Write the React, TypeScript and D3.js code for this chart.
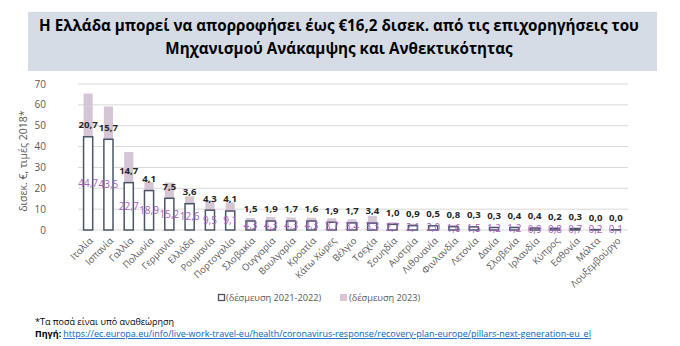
import React from "react";
import * as d3 from "d3";

const categories = [
  "Ιταλία", "Ισπανία", "Γαλλία", "Πολωνία", "Γερμανία", "Ελλάδα", "Ρουμανία",
  "Πορτογαλία", "Σλοβακία", "Ουγγαρία", "Βουλγαρία", "Κροατία", "Κάτω Χώρες",
  "Βέλγιο", "Τσεχία", "Σουηδία", "Αυστρία", "Λιθουανία", "Φινλανδία", "Λετονία",
  "Δανία", "Σλοβενία", "Ιρλανδία", "Κύπρος", "Εσθονία", "Μάλτα", "Λουξεμβούργο",
];
const commit2122 = [
  44.7, 43.5, 22.7, 18.9, 15.2, 12.6, 9.5, 9.1, 4.3, 4.3, 4.3, 4.3, 3.7, 3.4,
  3.3, 2.7, 2.1, 2.0, 1.6, 1.5, 1.2, 1.2, 0.9, 0.8, 0.7, 0.2, 0.1,
];
const commit2023 = [
  20.7, 15.7, 14.7, 4.1, 7.5, 3.6, 4.3, 4.1, 1.5, 1.9, 1.7, 1.6, 1.9, 1.7,
  3.4, 1.0, 0.9, 0.5, 0.8, 0.3, 0.3, 0.4, 0.4, 0.2, 0.3, 0.0, 0.0,
];
const yTicks = [0, 10, 20, 30, 40, 50, 60, 70];
const titleLines = [
  "Η Ελλάδα μπορεί να απορροφήσει έως €16,2 δισεκ. από τις επιχορηγήσεις του",
  "Μηχανισμού Ανάκαμψης και Ανθεκτικότητας",
];
const seriesNames = ["(δέσμευση 2021-2022)", "(δέσμευση 2023)"];
const yTitle = "δισεκ. €, τιμές 2018*";
const footnote = "*Τα ποσά είναι υπό αναθεώρηση";
const sourceLabel = "Πηγή:";
const sourceUrl =
  "https://ec.europa.eu/info/live-work-travel-eu/health/coronavirus-response/recovery-plan-europe/pillars-next-generation-eu_el";

const FONT = "'Open Sans', 'Noto Sans', sans-serif";
const fmt = (v: number) => d3.format(".1f")(v).replace(".", ",");

export default function App() {
  const W = 680;
  const H = 346;
  const x = d3
    .scaleBand<string>()
    .domain(categories)
    .range([78, 626])
    .paddingInner(0.55)
    .paddingOuter(0.275);
  const y = d3.scaleLinear().domain([0, 70]).range([230, 84]);
  const bw = x.bandwidth();

  return (
    <div style={{ position: "absolute", left: 0, top: 0 }}>
      <svg width={W} height={H} style={{ display: "block", fontFamily: FONT }}>
        <rect x={0} y={0} width={W} height={H} fill="#fff" />
        {/* title box */}
        <rect x={28} y={12} width={629} height={59} fill="#D6DCE5" />
        {titleLines.map((t, i) => (
          <text
            key={i}
            x={339}
            y={31 + i * 22.5}
            textAnchor="middle"
            fontSize={15.2}
            fontWeight="bold"
            fill="#000"
          >
            {t}
          </text>
        ))}

        {/* gridlines */}
        {yTicks.map((t) => (
          <g key={t}>
            <line
              x1={78}
              x2={628}
              y1={y(t)}
              y2={y(t)}
              stroke="#D9D9D9"
              strokeWidth={1}
            />
            <text
              x={46}
              y={y(t)}
              dy="0.35em"
              textAnchor="end"
              fontSize={10}
              fill="#595959"
            >
              {t}
            </text>
          </g>
        ))}

        <text
          transform={`translate(23,${y(33)}) rotate(-90)`}
          textAnchor="middle"
          dy="0.35em"
          fontSize={10.5}
          fill="#595959"
        >
          {yTitle}
        </text>

        {/* bars */}
        {categories.map((c, i) => {
          const bx = x(c)!;
          const v1 = commit2122[i];
          const v2 = commit2023[i];
          return (
            <g key={c}>
              <rect
                x={bx}
                y={y(v1 + v2)}
                width={bw}
                height={y(v1) - y(v1 + v2)}
                fill="#D5C6D6"
              />
              <rect
                x={bx}
                y={y(v1)}
                width={bw}
                height={y(0) - y(v1)}
                fill="#fff"
                stroke="#4A5568"
                strokeWidth={1.5}
              />
            </g>
          );
        })}

        {/* labels */}
        {categories.map((c, i) => {
          const cx = x(c)! + bw / 2;
          const v1 = commit2122[i];
          return (
            <g key={c}>
              <text
                x={cx}
                y={y(v1 / 2)}
                dy="0.35em"
                textAnchor="middle"
                fontSize={10}
                fill="#AD5DC0"
              >
                {fmt(v1)}
              </text>
              <text
                x={cx}
                y={y(v1) - 12}
                dy="0.35em"
                textAnchor="middle"
                fontSize={9.6}
                fontWeight="bold"
                fill="#262626"
              >
                {fmt(commit2023[i])}
              </text>
            </g>
          );
        })}

        {/* x labels */}
        {categories.map((c) => (
          <text
            key={c}
            transform={`translate(${x(c)! + bw / 2 + 3},${239}) rotate(-45)`}
            textAnchor="end"
            dy="0.35em"
            fontSize={9.5}
            fill="#595959"
          >
            {c}
          </text>
        ))}

        {/* legend */}
        <rect x={218.5} y={294.5} width={6} height={6} fill="#fff" stroke="#4A5568" strokeWidth={1.3} />
        <text x={226} y={298} dy="0.35em" fontSize={9.2} fill="#595959">
          {seriesNames[0]}
        </text>
        <rect x={340} y={294} width={7} height={7} fill="#D5C6D6" />
        <text x={349} y={298} dy="0.35em" fontSize={9.2} fill="#595959">
          {seriesNames[1]}
        </text>

        {/* footnotes */}
        <text x={35} y={322} dy="0.35em" fontSize={9} fill="#000">
          {footnote}
        </text>
        <text x={35} y={334} dy="0.35em" fontSize={9} fill="#000">
          <tspan fontWeight="bold">{sourceLabel}</tspan>
          <tspan dx={2} fill="#0563C1" textDecoration="underline">
            {sourceUrl}
          </tspan>
        </text>
      </svg>
    </div>
  );
}
